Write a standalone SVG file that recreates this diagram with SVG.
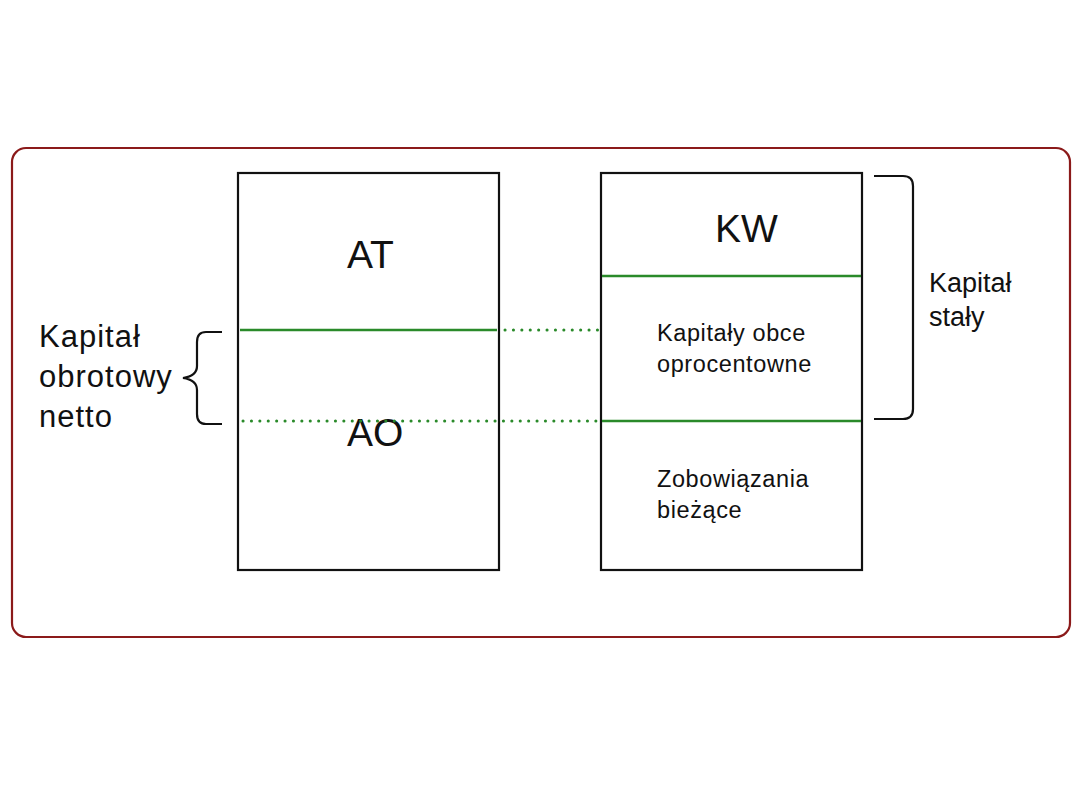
<svg xmlns="http://www.w3.org/2000/svg" width="1080" height="810" viewBox="0 0 1080 810">
<style>
.box{fill:#fff;stroke:#111;stroke-width:2.2}
.g{stroke:#2a8a2a;stroke-width:2.5;fill:none}
.gd{stroke:#2a8a2a;stroke-width:3;fill:none;stroke-dasharray:0.1 8.3;stroke-linecap:round}
.br{fill:none;stroke:#111;stroke-width:2.2}
text{font-family:"Liberation Sans",Arial,sans-serif;fill:#111}
.big{font-size:39px}
.lbl{font-size:31px;letter-spacing:1px}
.mid{font-size:27px}
.sm{font-size:23.5px;letter-spacing:0.6px}
</style>
<rect x="12" y="148" width="1058" height="489" rx="14" fill="#fff" stroke="#8b1a1a" stroke-width="2.2"/>
<g id="node-left">
<rect class="box" x="238" y="173" width="261" height="397"/>
<text class="big" x="347" y="268">AT</text>
<text class="big" x="347" y="446">AO</text>
</g>
<g id="node-right">
<rect class="box" x="601" y="173" width="261" height="397"/>
<text class="big" x="715" y="242">KW</text>
<text class="sm" x="657" y="341">Kapitały obce</text>
<text class="sm" x="657" y="372">oprocentowne</text>
<text class="sm" x="657" y="487">Zobowiązania</text>
<text class="sm" x="657" y="518">bieżące</text>
</g>
<g id="connectors">
<line class="g" x1="240" y1="330" x2="497" y2="330"/>
<line class="gd" x1="505" y1="330" x2="598" y2="330"/>
<line class="gd" x1="243" y1="421" x2="598" y2="421"/>
<line class="g" x1="602" y1="276" x2="861" y2="276"/>
<line class="g" x1="602" y1="421" x2="861" y2="421"/>
</g>
<g id="brace-left">
<path class="br" d="M222,332 H206 Q197,332 197,342 V366 Q197,376 183,378 Q197,380 197,390 V414 Q197,424 206,424 H222"/>
<text class="lbl" x="39" y="347">Kapitał</text>
<text class="lbl" x="39" y="387">obrotowy</text>
<text class="lbl" x="39" y="427">netto</text>
</g>
<g id="brace-right">
<path class="br" d="M874,176 H903 Q913,176 913,186 V409 Q913,419 903,419 H874"/>
<text class="mid" x="929" y="292">Kapitał</text>
<text class="mid" x="929" y="326">stały</text>
</g>
</svg>
